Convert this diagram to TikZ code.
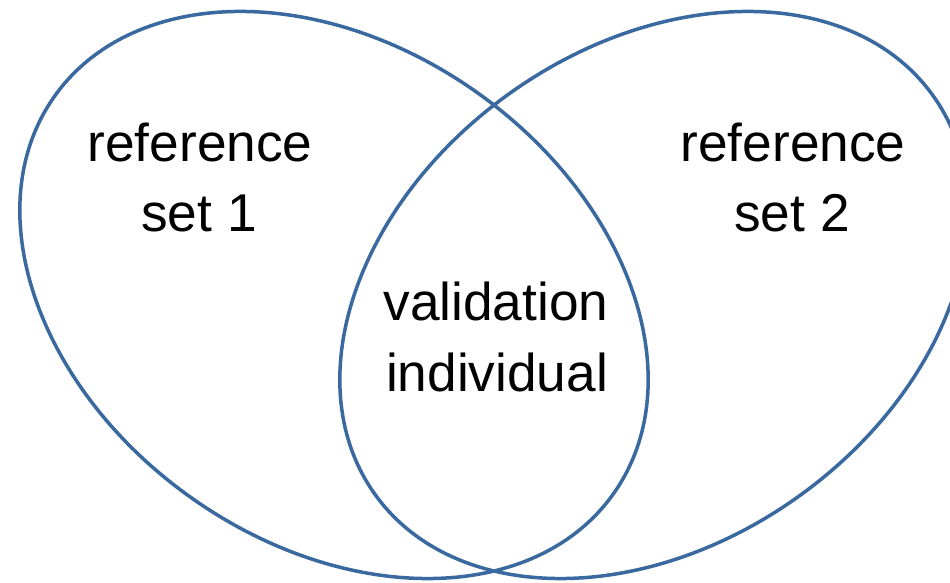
\documentclass[tikz,border=0pt]{standalone}
\usepackage{fontspec}
\setmainfont{Liberation Sans}
\definecolor{setblue}{RGB}{58,105,160}
\tikzset{
  setline/.style={draw=setblue, line width=0.07cm},
  lab/.style={anchor=base, inner sep=0pt, font=\fontsize{30.3}{39.7}\selectfont}
}
\begin{document}
\begin{tikzpicture}[x=0.02cm,y=0.02cm]
\useasboundingbox (0,0) rectangle (950,582);
\clip (0,0) rectangle (950,582);
\fill[white] (0,0) rectangle (950,582);
\draw[setline, rotate around={-35.5:(334,287)}] (334,287) ellipse [x radius=6.86cm, y radius=4.96cm];
\draw[setline, rotate around={35.5:(654,287)}] (654,287) ellipse [x radius=6.86cm, y radius=4.96cm];
\node[lab] (r1a) at (200,420) {reference};
\node[lab] (r1b) at (199,350) {set 1};
\node[lab] (r2a) at (793,420) {reference};
\node[lab] (r2b) at (792,350) {set 2};
\node[lab] (va) at (496,261) {validation};
\node[lab] (vb) at (497,191) {individual};
\end{tikzpicture}
\end{document}
